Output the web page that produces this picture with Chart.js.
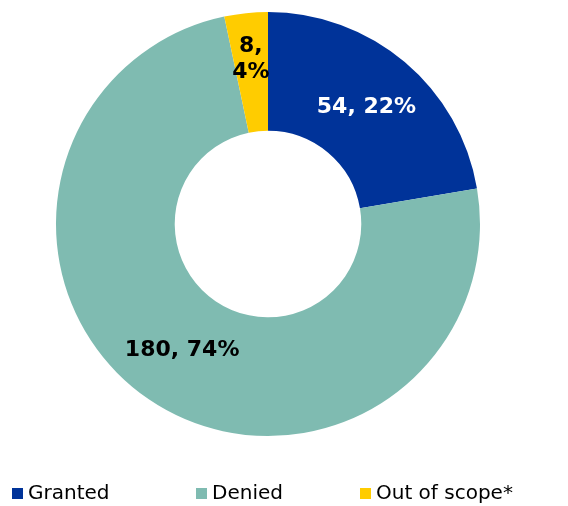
<!DOCTYPE html>
<html>
<head>
<meta charset="utf-8">
<script src="https://cdn.jsdelivr.net/npm/chart.js@4/dist/chart.umd.min.js"></script>
<style>
  html, body { margin: 0; padding: 0; background: #fff; }
  #wrap { width: 568px; height: 506px; }
</style>
</head>
<body>
<div id="wrap"><canvas id="myChart"></canvas></div>
<script>
// data
const categories = ['Granted', 'Denied', 'Out of scope*'];
const counts = [54, 180, 8];
const percents = [22, 74, 4];
const colours = ['#003399', '#7fbbb1', '#ffcc00'];
const labelColours = ['#ffffff', '#000000', '#000000'];

const FONT = '"DejaVu Sans", Verdana, sans-serif';

// labels inside the slices: "count, pct%"
const sliceLabels = {
  id: 'sliceLabels',
  afterDatasetsDraw(chart) {
    const ctx = chart.ctx;
    const meta = chart.getDatasetMeta(0);
    ctx.save();
    ctx.font = 'bold 22px ' + FONT;
    ctx.textAlign = 'center';
    ctx.textBaseline = 'middle';
    meta.data.forEach((arc, i) => {
      const p = arc.getProps(['x', 'y', 'startAngle', 'endAngle', 'innerRadius', 'outerRadius'], true);
      const mid = (p.startAngle + p.endAngle) / 2;
      const narrow = (p.endAngle - p.startAngle) < 0.5;
      // narrow slice gets the text split on two lines, pushed a bit outward
      const r = narrow ? p.outerRadius * 0.78 : (p.innerRadius + p.outerRadius) / 2;
      const x = p.x + Math.cos(mid) * r;
      const y = p.y + Math.sin(mid) * r;
      ctx.fillStyle = labelColours[i];
      if (narrow) {
        ctx.fillText(counts[i] + ',', x, y - 13);
        ctx.fillText(percents[i] + '%', x, y + 13);
      } else {
        ctx.fillText(counts[i] + ', ' + percents[i] + '%', x, y);
      }
    });
    ctx.restore();
  }
};

// legend along the bottom, squares + names
const bottomLegend = {
  id: 'bottomLegend',
  afterDraw(chart) {
    const ctx = chart.ctx;
    const xs = [12, 196, 360];
    const y = 494;
    ctx.save();
    ctx.font = '20px ' + FONT;
    ctx.textAlign = 'left';
    ctx.textBaseline = 'middle';
    chart.data.labels.forEach((lab, i) => {
      ctx.fillStyle = chart.data.datasets[0].backgroundColor[i];
      ctx.fillRect(xs[i], y - 6, 11, 11);
      ctx.fillStyle = '#000000';
      ctx.fillText(lab, xs[i] + 16, y);
    });
    ctx.restore();
  }
};

let elementThatHoldsChart = document.getElementById('myChart');
let myChart = new Chart(elementThatHoldsChart, {
  type: 'doughnut',
  data: {
    labels: categories,
    datasets: [{
      data: counts,
      backgroundColor: colours,
      borderWidth: 0
    }]
  },
  options: {
    responsive: true,
    maintainAspectRatio: false,
    animation: false,
    cutout: '44%',
    layout: { padding: { top: 12, bottom: 70, left: 0, right: 32 } },
    plugins: {
      legend: { display: false },
      tooltip: { enabled: false }
    }
  },
  plugins: [sliceLabels, bottomLegend]
});
if (!myChart) { console.log('no chart'); }
</script>
</body>
</html>
